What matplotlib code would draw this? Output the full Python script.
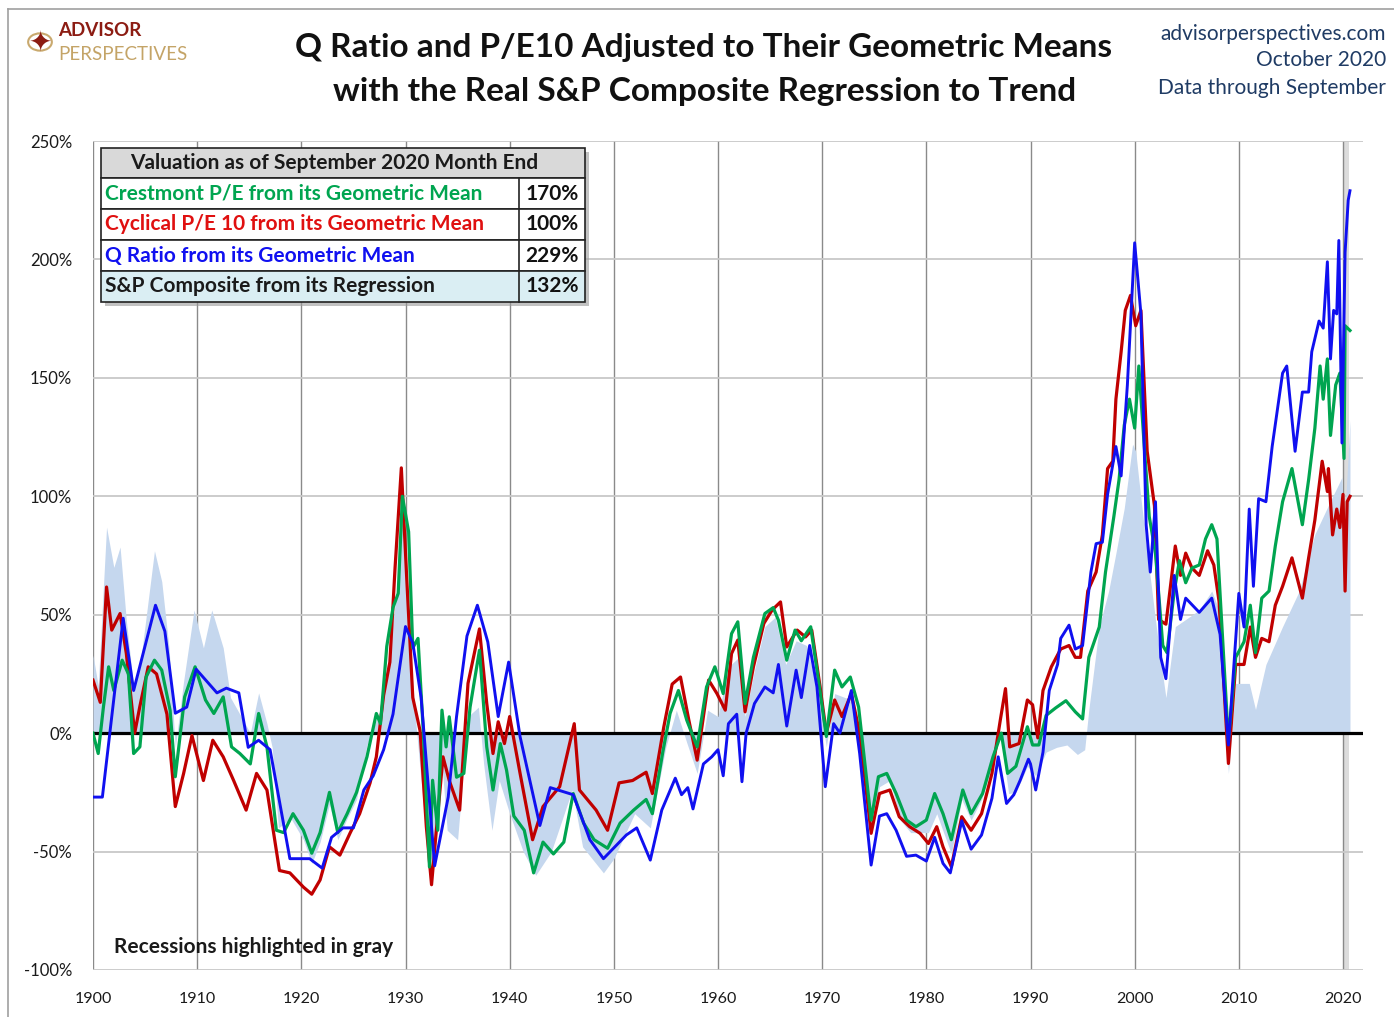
import matplotlib
matplotlib.use("Agg")
import matplotlib.pyplot as plt
from matplotlib.patches import Rectangle
from matplotlib.lines import Line2D

plt.rcParams['font.family'] = ['Lato', 'DejaVu Sans']

# ---------------- data ----------------
q_years = [1900.0, 1900.9, 1902.9, 1903.9, 1906.0, 1906.9, 1907.9, 1909.0, 1909.9, 1910.9, 1911.9, 1912.8,
           1914.0, 1914.9, 1915.9, 1917.0, 1918.9, 1920.8, 1922.0, 1922.9, 1924.0, 1925.0, 1926.0, 1926.9,
           1927.9, 1928.8, 1930.0, 1930.7, 1931.5, 1932.8, 1934.1, 1934.9, 1935.9, 1936.9, 1937.9, 1938.9,
           1939.9, 1941.0, 1942.9, 1943.9, 1946.1, 1947.7, 1949.0, 1951.2, 1952.2, 1953.5, 1954.6, 1955.9,
           1956.5, 1957.1, 1957.6, 1958.6, 1959.4, 1960.0, 1960.5, 1961.0, 1961.8, 1962.3, 1962.7, 1963.5,
           1964.5, 1965.3, 1965.8, 1966.6, 1967.5, 1968.0, 1968.8, 1969.5, 1970.3, 1971.1, 1971.7, 1972.8,
           1973.6, 1974.7, 1975.5, 1976.2, 1977.1, 1978.1, 1979.0, 1980.0, 1980.8, 1981.6, 1982.3, 1983.4,
           1984.3, 1985.3, 1986.3, 1986.9, 1987.7, 1988.4, 1989.0, 1989.8, 1990.0, 1990.5, 1991.2, 1991.8,
           1992.6, 1992.9, 1993.7, 1994.3, 1995.0, 1995.8, 1996.3, 1996.9, 1997.4, 1998.2, 1998.7, 1999.3,
           2000.0, 2000.6, 2001.1, 2001.5, 2002.0, 2002.5, 2003.0, 2003.8, 2004.4, 2004.9, 2006.2, 2006.8,
           2007.4, 2008.2, 2009.0, 2010.0, 2010.5, 2011.0, 2011.4, 2011.9, 2012.6, 2013.2, 2014.2, 2014.6,
           2015.4, 2016.1, 2016.7, 2017.0, 2017.7, 2018.1, 2018.5, 2018.8, 2019.1, 2019.4, 2019.6, 2019.9,
           2020.2, 2020.5, 2020.67]
q_vals = [-27, -27, 48.5, 18, 54, 43, 8.4, 11, 27, 22, 17, 19,
          17, -6, -3, -7, -53, -53, -57, -44, -40, -40, -24, -18,
          -7, 8, 45, 38, 15, -56, -27, 7, 41, 54, 38.5, 7,
          30, -1.5, -39, -23, -26, -45, -53, -43, -40, -53.6, -32.5, -19,
          -26, -23, -32, -13, -10, -7, -18, 4, 8, -20.5, 0, 12.5,
          19.5, 17, 29, 3, 26.6, 15, 37, 19.5, -22.6, 4, 0, 18,
          -8.6, -55.7, -35, -34, -41, -52, -51.5, -54, -44, -55, -59, -37,
          -49, -43, -27.5, -10, -29.7, -26, -20, -11, -13, -24, -8, 18,
          29, 40, 45.6, 35.5, 37, 68, 80, 80.6, 100.8, 121, 108.6, 147,
          207, 177, 88, 68, 97.7, 32, 23, 66.6, 48, 57, 51, 54,
          57, 41.7, -5, 59, 44.8, 94.6, 62, 99, 97.7, 121, 152, 155,
          119, 144, 144, 161, 174, 171, 199, 158, 178.5, 177, 208, 122.5,
          203, 225, 229]

pe_years = [1900.0, 1900.7, 1901.3, 1901.8, 1902.6, 1903.2, 1904.0, 1904.5, 1905.3, 1906.1, 1906.6, 1907.1,
            1907.9, 1908.7, 1909.5, 1910.6, 1911.5, 1912.5, 1913.5, 1914.7, 1915.7, 1916.7, 1917.3, 1917.9,
            1918.9, 1920.2, 1921.0, 1921.8, 1922.7, 1923.7, 1924.7, 1925.6, 1926.6, 1927.2, 1927.9, 1928.5,
            1929.0, 1929.6, 1930.1, 1930.7, 1931.4, 1932.0, 1932.5, 1932.9, 1933.6, 1934.2, 1935.2, 1936.0,
            1937.1, 1937.8, 1938.4, 1938.9, 1939.5, 1940.0, 1941.0, 1942.2, 1943.2, 1944.8, 1946.2, 1946.7,
            1948.3, 1949.4, 1950.5, 1951.8, 1953.1, 1953.7, 1954.8, 1955.6, 1956.4, 1957.2, 1958.0, 1959.1,
            1959.9, 1960.7, 1961.3, 1961.9, 1962.6, 1963.4, 1964.4, 1965.2, 1966.0, 1966.6, 1967.6, 1968.4,
            1969.0, 1969.8, 1970.4, 1971.2, 1971.9, 1972.8, 1973.6, 1974.7, 1975.5, 1976.5, 1977.4, 1978.4,
            1979.4, 1980.2, 1981.0, 1981.6, 1982.4, 1983.4, 1984.3, 1985.3, 1986.3, 1987.1, 1987.6, 1988.0,
            1988.9, 1989.7, 1990.2, 1990.7, 1991.2, 1992.0, 1992.9, 1993.7, 1994.3, 1994.8, 1995.5, 1996.3,
            1996.9, 1997.4, 1997.9, 1998.2, 1998.7, 1999.1, 1999.6, 2000.1, 2000.6, 2001.2, 2001.9, 2002.3,
            2003.0, 2003.9, 2004.4, 2004.9, 2005.5, 2006.2, 2007.0, 2007.6, 2008.1, 2009.0, 2009.7, 2010.5,
            2011.1, 2011.6, 2012.2, 2012.9, 2013.5, 2014.2, 2015.1, 2016.1, 2016.7, 2017.3, 2018.0, 2018.5,
            2018.6, 2019.0, 2019.4, 2019.7, 2020.0, 2020.2, 2020.4, 2020.67]
pe_vals = [22.4, 13, 61.7, 43.5, 50.5, 33.6, 0, 11.3, 28, 25, 16.5, 8,
           -31, -17, -1, -20, -3, -10, -20, -32.5, -17, -24, -41, -58,
           -59, -65, -68, -62, -48, -51.5, -42, -34, -21, -10, 16, 30,
           70, 112, 67, 15, 1, -39.5, -64, -44, -10, -20, -32.5, 21,
           44, 12.5, -8.6, 4.8, -4.4, 7, -17, -45, -31, -22.6, 4, -24,
           -32.5, -41, -21, -20, -16.5, -25.5, 2.7, 20.7, 23.7, 5.5, -11.4, 22.4,
           16.7, 9.7, 33.6, 39.3, 9, 28, 46.3, 52, 55.4, 36.4, 43.5, 40.6,
           43.5, 19.5, 0, 14, 7, 16.7, 0, -42.3, -25.5, -24, -35.3, -39.5,
           -42.3, -46.6, -39.5, -48, -56.4, -35.3, -41, -34, -17, 5.5, 18.8, -5.8,
           -4.4, 14, 12, -2, 18, 28, 35.5, 37, 32, 32, 60, 68,
           83.7, 111.7, 114.8, 141, 161, 178.5, 184.8, 172, 178.5, 119, 96, 48,
           46, 79, 66.6, 76, 69.7, 66.6, 77, 71, 55.7, -12.8, 29, 29,
           44.8, 32, 40, 38.6, 54, 62, 74, 57, 74, 90, 114.8, 102,
           111.7, 83.7, 94.6, 86.8, 100.8, 60, 97.7, 100]

cm_years = [1900.0, 1900.5, 1901.0, 1901.5, 1902.0, 1902.8, 1903.4, 1903.9, 1904.5, 1905.1, 1905.9, 1906.6,
            1907.4, 1907.9, 1908.8, 1909.8, 1910.8, 1911.6, 1912.5, 1913.3, 1914.1, 1915.1, 1915.9, 1916.7,
            1917.6, 1918.3, 1919.2, 1920.2, 1921.0, 1921.8, 1922.7, 1923.5, 1924.4, 1925.3, 1926.3, 1927.2,
            1927.6, 1928.2, 1928.8, 1929.3, 1929.7, 1930.3, 1930.7, 1931.2, 1931.7, 1932.3, 1932.6, 1933.1,
            1933.5, 1933.9, 1934.2, 1934.9, 1935.6, 1936.2, 1937.1, 1937.8, 1938.4, 1939.1, 1939.7, 1940.4,
            1941.4, 1942.3, 1943.2, 1944.2, 1945.2, 1946.1, 1947.1, 1948.1, 1949.4, 1950.6, 1951.9, 1953.1,
            1953.7, 1954.7, 1955.4, 1956.2, 1957.0, 1958.0, 1958.9, 1959.7, 1960.5, 1961.3, 1961.9, 1962.6,
            1963.4, 1964.5, 1965.3, 1965.8, 1966.6, 1967.4, 1968.0, 1968.9, 1969.6, 1970.4, 1971.2, 1971.9,
            1972.7, 1973.5, 1974.7, 1975.4, 1976.2, 1977.1, 1978.1, 1979.0, 1980.0, 1980.8, 1981.6, 1982.4,
            1983.5, 1984.3, 1985.4, 1986.4, 1987.2, 1987.8, 1988.6, 1989.7, 1990.2, 1990.8, 1991.5, 1992.4,
            1993.4, 1994.3, 1995.0, 1995.6, 1996.6, 1997.2, 1998.0, 1998.5, 1999.0, 1999.5, 2000.0, 2000.4,
            2000.9, 2001.4, 2002.0, 2002.7, 2003.1, 2003.8, 2004.3, 2004.9, 2005.5, 2006.2, 2006.8, 2007.4,
            2007.9, 2009.0, 2009.7, 2010.5, 2011.1, 2011.6, 2012.2, 2012.9, 2013.5, 2014.2, 2015.1, 2016.1,
            2016.7, 2017.3, 2017.8, 2018.1, 2018.5, 2018.8, 2019.3, 2019.7, 2020.1, 2020.2, 2020.67]
cm_vals = [0, -8.6, 11, 28, 18, 30.8, 25, -8.6, -5.8, 23.7, 30.8, 26.6,
           9.7, -18.4, 15.3, 28, 14, 8.3, 15.3, -5.8, -8.6, -13, 8.3, -5.8,
           -41, -42, -34, -41, -50.7, -42, -25, -42, -34, -25, -10, 8.3,
           4, 36.6, 53, 59, 100, 85, 36, 40, 1.3, -56.5, -19.9, -41,
           9.7, -5.8, 6.9, -18.6, -17, 11, 35, -5.8, -24, -4.4, -15.6, -35,
           -41, -59, -46, -51, -46, -25.5, -38, -45, -48.6, -38, -32.5, -28,
           -34, -8, 8.3, 18, 5.5, -5.8, 19.5, 28, 16.7, 42, 47, 12.5,
           32, 50.5, 53, 47.7, 30.8, 43.5, 39, 44.9, 23.7, -1.4, 26.6, 19.5,
           23.7, 11, -36.7, -18.4, -17, -25.5, -36.7, -39.5, -36.7, -25.5, -34, -45,
           -24, -34, -25.5, -10, 0, -17, -14, 2.7, -5, -5, 7.5, 10.6,
           13.7, 9, 6, 32, 44.8, 68, 91.4, 107, 130, 141, 128.8, 155,
           122.5, 91.4, 75.9, 37, 34, 60, 72.8, 63.5, 69.7, 71, 82, 88,
           82, -3.4, 32, 38.6, 54, 34, 57, 60, 79, 97.7, 111.7, 88,
           107, 128.8, 155, 141, 158, 125.7, 147, 152, 116, 172, 170]

sp_years = [1900.0, 1900.5, 1901.3, 1902.0, 1902.6, 1903.2, 1903.9, 1904.5, 1905.9, 1906.6, 1907.3, 1907.9,
            1908.7, 1909.7, 1910.6, 1911.4, 1912.5, 1913.2, 1914.1, 1915.1, 1915.9, 1916.7, 1917.2, 1917.8,
            1919.0, 1920.2, 1921.0, 1921.8, 1922.7, 1923.5, 1924.4, 1925.3, 1926.3, 1927.5, 1928.3, 1929.1,
            1929.7, 1930.3, 1931.0, 1932.0, 1932.5, 1933.5, 1934.0, 1935.0, 1936.0, 1937.0, 1937.5, 1938.3,
            1939.0, 1940.0, 1941.3, 1942.5, 1944.0, 1946.0, 1947.0, 1949.0, 1950.0, 1952.0, 1953.5, 1955.0,
            1956.0, 1957.0, 1958.0, 1959.0, 1960.0, 1961.0, 1962.0, 1962.6, 1963.5, 1964.5, 1965.5, 1966.5,
            1967.5, 1968.5, 1969.6, 1970.4, 1971.2, 1972.8, 1973.6, 1974.7, 1975.5, 1976.5, 1977.5, 1978.5,
            1979.4, 1980.2, 1981.0, 1982.4, 1983.4, 1984.3, 1985.3, 1986.3, 1987.1, 1987.9, 1988.6, 1989.7,
            1990.5, 1991.5, 1992.5, 1993.5, 1994.5, 1995.2, 1995.6, 1996.6, 1997.5, 1998.2, 1999.0, 1999.8,
            2000.1, 2000.4, 2001.1, 2002.3, 2003.0, 2003.9, 2004.9, 2006.2, 2007.4, 2008.1, 2009.0, 2009.7,
            2011.0, 2011.6, 2012.6, 2014.2, 2015.8, 2017.3, 2018.9, 2019.9, 2020.1, 2020.67]
sp_vals = [33, 20, 87, 70, 78.6, 47.6, 19.5, 28, 77, 64, 36, -6,
           22, 52, 36, 52, 36, 15, 8, 0, 17, 4, -6, -40,
           -36, -45, -55, -46, -30, -45, -36, -28, -5, 9, 30, 58,
           93, 43, 4, -44, -55, -13, -41, -45, 7, 11, -13, -41,
           -20, -34, -50, -60, -50, -24, -48, -59, -53, -34, -40, -5.8,
           9.7, -4, -17, 9.7, 7, 28, 32, 7, 26.6, 45, 49, 29,
           39, 37, 16.7, -5.8, 16.7, 14, -5.8, -39.5, -22.6, -20, -36.7, -42,
           -42, -42, -34, -51, -28, -36.7, -28, -14, 0, -25.5, -25, -14,
           -18, -8, -6, -5, -9, -7, 10, 45, 60, 76, 95, 122,
           119, 107, 80, 37, 15, 45, 48, 52, 60, 52, -17, 21,
           21, 10, 29, 45, 60, 84, 99, 108, 85, 132]

recession_start, recession_end = 2020.0, 2020.6

x_ticks = [1900, 1910, 1920, 1930, 1940, 1950, 1960, 1970, 1980, 1990, 2000, 2010, 2020]
y_ticks = [-100, -50, 0, 50, 100, 150, 200, 250]

table_header = "Valuation as of September 2020 Month End"
table_labels = ["Crestmont P/E from its Geometric Mean", "Cyclical P/E 10 from its Geometric Mean",
                "Q Ratio from its Geometric Mean", "S&P Composite from its Regression"]
table_values = ["170%", "100%", "229%", "132%"]

# ---------------- styling ----------------
W, H = 1394, 1017
C_BLUE = "#1010f0"
C_RED = "#c00000"
C_GREEN = "#00a550"
C_FILL = "#c5d7ee"

fig = plt.figure(figsize=(W / 100, H / 100), dpi=100)
fig.patch.set_facecolor("white")

def fx(px):
    return px / W

def fy(py):
    return 1 - py / H

ax = fig.add_axes([fx(93), fy(970), fx(1363) - fx(93), fy(141) - fy(970)])
ax.set_xlim(1900, 2021.92)
ax.set_ylim(-100, 250)

ax.axvspan(recession_start, recession_end, color="#dcdcdc", zorder=0.5, lw=0)
ax.fill_between(sp_years, 0, sp_vals, color=C_FILL, lw=0, zorder=1)

for xt in x_ticks:
    ax.axvline(xt, color="#8a8a8a", lw=1.0, zorder=0.6)
for yt in y_ticks:
    ax.axhline(yt, color="#c8c8c8", lw=1.3, zorder=0.6)
ax.axhline(0, color="black", lw=2.3, zorder=2)

ax.plot(pe_years, pe_vals, color=C_RED, lw=2.3, zorder=3, solid_joinstyle="round")
ax.plot(cm_years, cm_vals, color=C_GREEN, lw=2.3, zorder=4, solid_joinstyle="round")
ax.plot(q_years, q_vals, color=C_BLUE, lw=2.1, zorder=5, solid_joinstyle="round")

for s in ax.spines.values():
    s.set_visible(False)
ax.set_xticks(x_ticks)
ax.set_xticklabels([str(x) for x in x_ticks])
ax.set_yticks(y_ticks)
ax.set_yticklabels([f"{v}%" for v in y_ticks])
ax.tick_params(axis="x", length=0, labelsize=11.5, colors="#1a1a1a", pad=16)
ax.tick_params(axis="y", length=0, labelsize=12, colors="#1a1a1a", pad=15)

ax.text(1902, -93, "Recessions highlighted in gray", fontsize=15, fontweight="bold",
        color="#1a1a1a", zorder=6)

# ---------------- figure frame ----------------
fig.add_artist(Line2D([fx(8), 1], [fy(9), fy(9)], color="#a0a0a0", lw=1.2))
fig.add_artist(Line2D([fx(8), fx(8)], [fy(9), 0], color="#a0a0a0", lw=1.2))

# ---------------- titles ----------------
fig.text(fx(704), fy(48), "Q Ratio and P/E10 Adjusted to Their Geometric Means",
         ha="center", va="center", fontsize=24, fontweight="bold", color="#111111")
fig.text(fx(705), fy(92), "with the Real S&P Composite Regression to Trend",
         ha="center", va="center", fontsize=24, fontweight="bold", color="#111111")

for txt, yy in [("advisorperspectives.com", 34), ("October 2020", 60), ("Data through September", 88)]:
    fig.text(fx(1386), fy(yy), txt, ha="right", va="center", fontsize=15, color="#1f3b64")

# logo
fig.text(fx(40), fy(42), "\u2726", ha="center", va="center", fontsize=20, color="#8c1c13",
         family=["DejaVu Sans"])
fig.add_artist(plt.Circle((fx(40), fy(42)), 0.0085, transform=fig.transFigure, fill=False,
                          ec="#c9a96e", lw=1.5))
fig.text(fx(58), fy(31), "ADVISOR", ha="left", va="center", fontsize=13.5, fontweight="bold",
         color="#8c1c13")
fig.text(fx(58), fy(54), "PERSPECTIVES", ha="left", va="center", fontsize=13.5, color="#c4a467")

# ---------------- valuation table ----------------
tx0, tx1, tcol = 101, 585, 519
ty = [148, 178, 209, 240, 271, 302]
# shadow
fig.add_artist(Rectangle((fx(tx0 + 4), fy(ty[-1] + 4)), fx(tx1) - fx(tx0), fy(ty[0]) - fy(ty[-1]),
                         transform=fig.transFigure, fc="#9a9a9a", ec="none", alpha=0.6, zorder=8))
fills = ["#d9d9d9", "white", "white", "white", "#daeef3"]
for i in range(5):
    fig.add_artist(Rectangle((fx(tx0), fy(ty[i + 1])), fx(tx1) - fx(tx0), fy(ty[i]) - fy(ty[i + 1]),
                             transform=fig.transFigure, fc=fills[i], ec="#222222", lw=1.2, zorder=9))
fig.add_artist(Line2D([fx(tcol), fx(tcol)], [fy(ty[1]), fy(ty[-1])], color="#222222", lw=1.2, zorder=10))

fig.text(fx(334), fy(163), table_header, ha="center", va="center", fontsize=15,
         fontweight="bold", color="#1a1a1a", zorder=11)
label_colors = [C_GREEN, "#e01010", "#1010f0", "#1a1a1a"]
for i, (lab, val) in enumerate(zip(table_labels, table_values)):
    yc = (ty[i + 1] + ty[i + 2]) / 2
    fig.text(fx(105), fy(yc), lab, ha="left", va="center", fontsize=15, fontweight="bold",
             color=label_colors[i], zorder=11)
    fig.text(fx(579), fy(yc), val, ha="right", va="center", fontsize=15, fontweight="bold",
             color="#111111", zorder=11)

fig.savefig("out.png", dpi=100)
